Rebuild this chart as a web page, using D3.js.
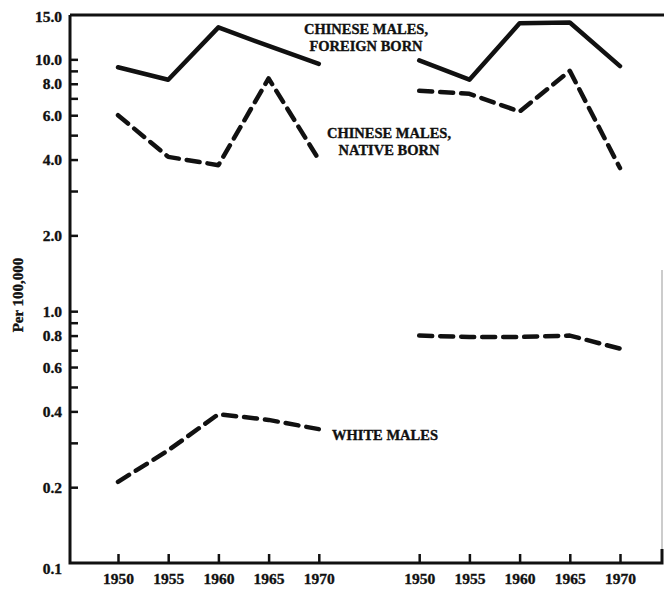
<!DOCTYPE html>
<html>
<head>
<meta charset="utf-8">
<script src="https://cdn.jsdelivr.net/npm/d3@7/dist/d3.min.js"></script>
<style>
  html, body { margin: 0; padding: 0; background: #fff; }
  svg { display: block; }
  text { font-family: "Liberation Serif", "DejaVu Serif", serif; font-weight: bold; fill: #111; stroke: #111; stroke-width: 0.35px; }
</style>
</head>
<body>
<svg id="chart" width="664" height="589"></svg>
<script>
// ---- data ----
const years = ["1950", "1955", "1960", "1965", "1970"];
const foreignBornA = [9.3, 8.3, 13.4, 11.3, 9.6];
const foreignBornB = [9.9, 8.3, 13.9, 14.0, 9.4];
const nativeBornA  = [6.0, 4.1, 3.8, 8.4, 4.0];
const nativeBornB  = [7.5, 7.3, 6.2, 9.0, 3.7];
const whiteA       = [0.21, 0.28, 0.39, 0.37, 0.34];
const whiteB       = [0.80, 0.79, 0.79, 0.80, 0.71];
const yTicks       = [10, 9, 8, 7, 6, 5, 4, 3, 2, 1, 0.9, 0.8, 0.7, 0.6, 0.5, 0.4, 0.3, 0.2];
const yLabels      = [15, 10, 8, 6, 4, 2, 1, 0.8, 0.6, 0.4, 0.2, 0.1];

(function () {
// ---- layout ----
const svg = d3.select("#chart");
const mLeft = 70, mRight = 662, mTop = 15, mBottom = 563;
const x = d3.scaleLinear().domain([0, 10]).range([118, 620]);
const y = d3.scaleLog().domain([0.1, 15]).range([mBottom, mTop]);
const ink = "#111";

// panel index positions: left panel 0..4, right panel 6..10
const panelA = years.map((d, i) => i);
const panelB = years.map((d, i) => i + 6);

// ---- frame ----
svg.append("path")
  .attr("d", `M${mLeft},${mTop} L664,${mTop}`)
  .attr("stroke", ink).attr("stroke-width", 3).attr("fill", "none");
svg.append("path")
  .attr("d", `M${mRight},270 L${mRight},${mBottom}`)
  .attr("stroke", "#999").attr("stroke-width", 1).attr("fill", "none");

// left axis
const yAxis = d3.axisLeft(y)
  .tickValues(yTicks)
  .tickSize(-8)
  .tickFormat("");
const gy = svg.append("g").attr("transform", `translate(${mLeft},0)`).call(yAxis);
gy.select(".domain").remove();
gy.selectAll(".tick line").attr("stroke", ink).attr("stroke-width", 2.5);

const yLab = d3.axisLeft(y).tickValues(yLabels).tickSize(0).tickPadding(8)
  .tickFormat(d => d.toFixed(1));
const gyl = svg.append("g").attr("transform", `translate(${mLeft},0)`).call(yLab);
gyl.select(".domain").remove();
gyl.selectAll(".tick text").attr("font-size", 15.5).attr("fill", ink)
  .attr("font-family", "Liberation Serif, serif").attr("font-weight", "bold")
  .attr("y", d => d === 0.1 ? 6 : (d === 15 ? 2 : 0));

svg.append("path")
  .attr("d", `M${mLeft},${mTop} L${mLeft},${mBottom} L${mRight},${mBottom} L${mRight},${mBottom - 14}`)
  .attr("stroke", ink).attr("stroke-width", 3).attr("fill", "none");

// bottom axis ticks and labels
const allIdx = panelA.concat(panelB);
const allYears = years.concat(years);
const xAxis = d3.axisBottom(x).tickValues(allIdx).tickSize(-9).tickPadding(9)
  .tickFormat((d, i) => allYears[i]);
const gx = svg.append("g").attr("transform", `translate(0,${mBottom})`).call(xAxis);
gx.select(".domain").remove();
gx.selectAll(".tick line").attr("stroke", ink).attr("stroke-width", 2.5);
gx.selectAll(".tick text").attr("font-size", 15.5).attr("fill", ink)
  .attr("font-family", "Liberation Serif, serif").attr("font-weight", "bold")
  .attr("dy", "0.8em");

// y title
svg.append("text")
  .attr("transform", `translate(23,295) rotate(-90)`)
  .attr("text-anchor", "middle")
  .attr("font-size", 15)
  .text("Per 100,000");

// ---- lines ----
const line = d3.line().x(d => x(d[0])).y(d => y(d[1]));
function drawSeries(idx, vals, dashed) {
  svg.append("path")
    .datum(idx.map((d, i) => [d, vals[i]]))
    .attr("d", line)
    .attr("fill", "none")
    .attr("stroke", ink)
    .attr("stroke-width", 4.5)
    .attr("stroke-linecap", "round")
    .attr("stroke-linejoin", "round")
    .attr("stroke-dasharray", dashed ? "13,8" : null);
}
drawSeries(panelA, foreignBornA, false);
drawSeries(panelB, foreignBornB, false);
drawSeries(panelA, nativeBornA, true);
drawSeries(panelB, nativeBornB, true);
drawSeries(panelA, whiteA, true);
drawSeries(panelB, whiteB, true);

// ---- annotations ----
function label(lines, cx, cy) {
  const t = svg.append("text").attr("text-anchor", "middle").attr("font-size", 14.5);
  lines.forEach((s, i) => t.append("tspan").attr("x", cx).attr("y", cy + i * 17).text(s));
}
label(["CHINESE MALES,", "FOREIGN BORN"], 366, 34);
label(["CHINESE MALES,", "NATIVE BORN"], 389, 138);
label(["WHITE MALES"], 385, 440);
})();
</script>
</body>
</html>
